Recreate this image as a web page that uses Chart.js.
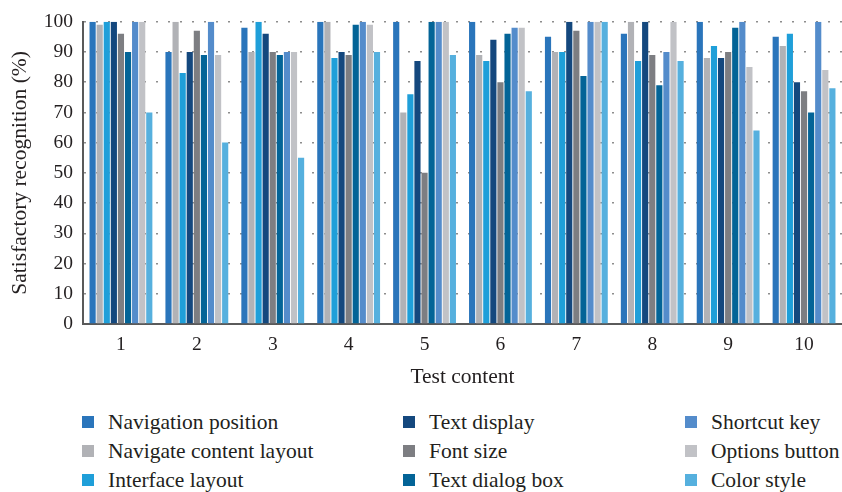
<!DOCTYPE html>
<html>
<head>
<meta charset="utf-8">
<script src="https://cdn.jsdelivr.net/npm/chart.js@4/dist/chart.umd.min.js"></script>
<style>
  html, body { margin: 0; padding: 0; background: #fff; }
  #wrap { position: relative; width: 842px; height: 492px; overflow: hidden; }
  #chartBox { position: absolute; left: 0; top: 0; width: 842px; height: 400px; }
  .leg { position: absolute; font-family: "Liberation Serif", "DejaVu Serif", serif; font-size: 21.5px; color: #231f20; white-space: nowrap; line-height: 24px; }
  .leg span.sw { position: absolute; width: 12px; height: 12px; top: 6px; }
  .leg span.tx { position: absolute; top: 0; }
</style>
</head>
<body>
<div id="wrap">
  <div id="chartBox"><canvas id="c" width="842" height="400"></canvas></div>
  <div id="legend"></div>
</div>
<script>
// Test content groups
const categories = ['1', '2', '3', '4', '5', '6', '7', '8', '9', '10'];

// Satisfactory recognition (%) per item, one array per series
const navigationPosition    = [100, 90, 98, 100, 100, 100, 95, 96, 100, 95];
const navigateContentLayout = [99, 100, 90, 100, 70, 89, 90, 100, 88, 92];
const interfaceLayout       = [100, 83, 100, 88, 76, 87, 90, 87, 92, 96];
const textDisplay           = [100, 90, 96, 90, 87, 94, 100, 100, 88, 80];
const fontSize              = [96, 97, 90, 89, 50, 80, 97, 89, 90, 77];
const textDialogBox         = [90, 89, 89, 99, 100, 96, 82, 79, 98, 70];
const shortcutKey           = [100, 100, 90, 100, 100, 98, 100, 90, 100, 100];
const optionsButton         = [100, 89, 90, 99, 100, 98, 100, 100, 85, 84];
const colorStyle            = [70, 60, 55, 90, 89, 77, 100, 87, 64, 78];

const seriesNames = ['Navigation position', 'Navigate content layout', 'Interface layout',
  'Text display', 'Font size', 'Text dialog box',
  'Shortcut key', 'Options button', 'Color style'];
const seriesValues = [navigationPosition, navigateContentLayout, interfaceLayout,
  textDisplay, fontSize, textDialogBox, shortcutKey, optionsButton, colorStyle];
const seriesColors = ['#2a75bb', '#b1b2b6', '#1f9fd9', '#14487e', '#7d7e82',
  '#036497', '#548ccb', '#c1c2c6', '#56b0de'];

const yTicks = [0, 10, 20, 30, 40, 50, 60, 70, 80, 90, 100];

const serif = '"Liberation Serif", "DejaVu Serif", serif';
const textColor = '#231f20';

const datasets = seriesNames.map((name, i) => ({
  label: name,
  data: seriesValues[i],
  backgroundColor: seriesColors[i],
  borderWidth: 0,
  categoryPercentage: 0.84,
  barPercentage: 0.87
}));

new Chart(document.getElementById('c'), {
  type: 'bar',
  data: { labels: categories, datasets },
  options: {
    responsive: false,
    animation: false,
    layout: { padding: { top: 17, right: 0, left: 0, bottom: 0 } },
    plugins: { legend: { display: false }, tooltip: { enabled: false } },
    scales: {
      x: {
        grid: { display: false, drawTicks: false },
        border: { display: true, color: '#5a5a5a', width: 2 },
        ticks: { color: textColor, font: { family: serif, size: 19.5 }, padding: 9 },
        title: { display: true, text: 'Test content', color: textColor,
                 font: { family: serif, size: 21.5 }, padding: { top: 0, bottom: 10 } },
        afterFit: s => { s.height = 76; }
      },
      y: {
        min: 0, max: 100,
        afterBuildTicks: s => { s.ticks = yTicks.map(v => ({ value: v })); },
        grid: { color: '#8d8d8d', lineWidth: 1.5, drawTicks: false },
        border: { display: true, color: '#5a5a5a', width: 2, dash: [2, 10] },
        ticks: { color: textColor, font: { family: serif, size: 19.5 }, padding: 10 },
        title: { display: true, text: 'Satisfactory recognition (%)', color: textColor,
                 font: { family: serif, size: 21.5 }, padding: { top: 7, bottom: 0 } },
        afterFit: s => { s.width = 83; }
      }
    }
  }
});

// Legend laid out in three columns, filled column by column
const legend = document.getElementById('legend');
const colLeft = [82, 403, 685];
const rowTop = [410, 439, 468];
seriesNames.forEach((name, i) => {
  const col = Math.floor(i / 3), row = i % 3;
  const item = document.createElement('div');
  item.className = 'leg';
  item.style.left = colLeft[col] + 'px';
  item.style.top = rowTop[row] + 'px';
  const sw = document.createElement('span');
  sw.className = 'sw';
  sw.style.left = '0px';
  sw.style.background = seriesColors[i];
  const tx = document.createElement('span');
  tx.className = 'tx';
  tx.style.left = '26px';
  tx.textContent = name;
  item.appendChild(sw);
  item.appendChild(tx);
  legend.appendChild(item);
});
</script>
</body>
</html>
